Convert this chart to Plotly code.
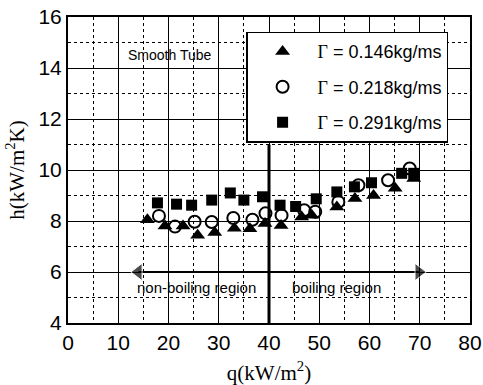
import plotly.graph_objects as go

# Heat flux q (kW/m^2) and heat transfer coefficient h (kW/m^2K) for three film flow rates
q_g146 = [15.8, 19.3, 22.9, 25.8, 29.2, 33.1, 36.2, 39.2, 42.4, 46.5, 48.5, 53.5, 57.1, 60.8, 65.1, 68.8]
h_g146 = [8.05, 7.80, 7.80, 7.44, 7.55, 7.72, 7.70, 7.90, 7.82, 8.16, 8.23, 8.55, 8.88, 9.00, 9.28, 9.67]

q_g218 = [18.1, 21.3, 25.2, 28.6, 32.9, 36.7, 39.3, 42.5, 47.0, 49.2, 53.8, 57.8, 63.7, 68.0]
h_g218 = [8.20, 7.78, 7.97, 7.96, 8.12, 8.05, 8.30, 8.22, 8.42, 8.36, 8.75, 9.40, 9.60, 10.06]

q_g291 = [17.8, 21.6, 24.6, 28.6, 32.3, 35.0, 38.7, 42.2, 45.3, 49.4, 53.5, 57.0, 60.4, 66.4, 68.8]
h_g291 = [8.71, 8.66, 8.62, 8.82, 9.10, 8.82, 8.95, 8.62, 8.57, 8.87, 9.14, 9.34, 9.50, 9.87, 9.87]

series_names = ["0.146", "0.218", "0.291"]

x_ticks = [0, 10, 20, 30, 40, 50, 60, 70, 80]
y_ticks = [4, 6, 8, 10, 12, 14, 16]

q_onset = 40          # onset of nucleate boiling
arrow_h = 6           # height of the region arrows
left_head = 14.0      # centres of the two arrow heads
right_head = 69.8

SANS = "Liberation Sans Narrow, Arial Narrow, Liberation Sans, Arial, sans-serif"
SERIF = "Liberation Serif, Times New Roman, serif"


def legend_label(g):
    return f'<span style="font-family:{SERIF}">Γ</span> = {g}kg/ms'


fig = go.Figure()
fig.add_trace(go.Scatter(
    x=q_g146, y=h_g146, mode="markers", name=legend_label(series_names[0]),
    legendgroup="a",
    marker=dict(symbol="triangle-up", size=13, color="black"),
))
fig.add_trace(go.Scatter(
    x=q_g218, y=h_g218, mode="markers", name=legend_label(series_names[1]),
    legendgroup="b",
    marker=dict(symbol="circle-open", size=12, color="black", line=dict(width=2, color="black")),
))
fig.add_trace(go.Scatter(
    x=q_g291, y=h_g291, mode="markers", name=legend_label(series_names[2]),
    legendgroup="c",
    marker=dict(symbol="square", size=11, color="black"),
))

# Region arrows: a line along h = 6 with filled heads at both ends
fig.add_trace(go.Scatter(
    x=[left_head, right_head], y=[arrow_h, arrow_h], mode="lines+markers",
    line=dict(color="black", width=2),
    marker=dict(symbol=["triangle-left", "triangle-right"], size=[15, 15], color="black"),
    showlegend=False, hoverinfo="skip",
))

axis_common = dict(
    showline=True, linecolor="black", linewidth=2, mirror=True,
    showgrid=True, gridcolor="black", gridwidth=1.2,
    zeroline=False, ticks="", automargin=False,
    tickfont=dict(family=SANS, size=21, color="black"),
)

fig.update_xaxes(
    range=[0, 80], tickvals=x_ticks,
    minor=dict(dtick=5, showgrid=True, gridcolor="black", griddash="dot", gridwidth=1),
    title=dict(text="q(kW/m<sup>2</sup>)", font=dict(family=SERIF, size=21, color="black"), standoff=12),
    **axis_common,
)
fig.update_yaxes(
    range=[4, 16], tickvals=y_ticks,
    minor=dict(dtick=1, showgrid=True, gridcolor="black", griddash="dot", gridwidth=1),
    title=dict(text="h(kW/m<sup>2</sup>K)", font=dict(family=SERIF, size=21, color="black"), standoff=8),
    **axis_common,
)

# Boundary between the non-boiling and boiling regions
fig.add_shape(type="line", xref="x", yref="y", x0=q_onset, x1=q_onset, y0=4, y1=11,
              line=dict(color="black", width=3))

annotations = [
    dict(x=25.6, y=5.4, xref="x", yref="y", text="non-boiling region", showarrow=False,
         font=dict(family=SANS, size=15, color="black")),
    dict(x=53.5, y=5.4, xref="x", yref="y", text="boiling region", showarrow=False,
         font=dict(family=SANS, size=15, color="black")),
    dict(x=20.2, y=14.5, xref="x", yref="y", text="Smooth Tube", showarrow=False,
         font=dict(family=SANS, size=14, color="black")),
]

fig.update_layout(
    width=483, height=385,
    margin=dict(l=68, r=13, t=17, b=62),
    paper_bgcolor="white", plot_bgcolor="white",
    font=dict(family=SANS, size=18, color="black"),
    annotations=annotations,
    showlegend=True,
    legend=dict(
        x=0.443, y=0.952, xanchor="left", yanchor="top",
        bgcolor="white", bordercolor="black", borderwidth=1.5,
        font=dict(family=SANS, size=18, color="black"),
        tracegroupgap=9, itemwidth=60, entrywidth=214, entrywidthmode="pixels",
    ),
)

fig.write_html("out.html")
